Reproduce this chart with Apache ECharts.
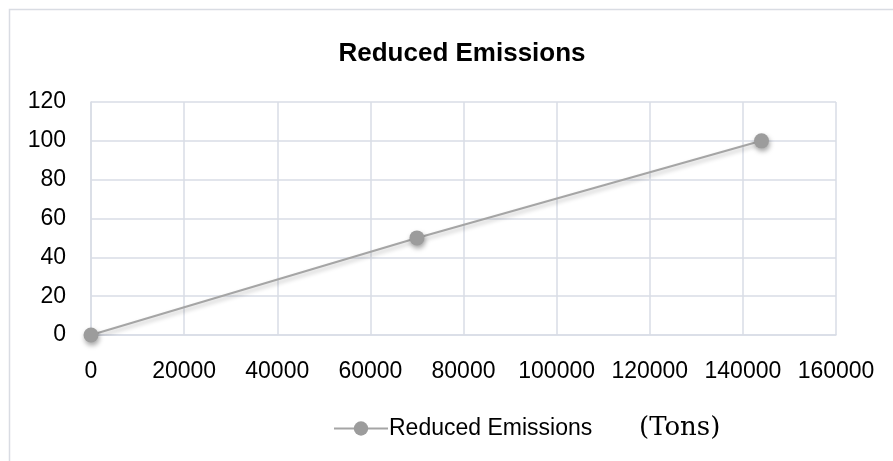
<!DOCTYPE html>
<html>
<head>
<meta charset="utf-8">
<script src="https://cdn.jsdelivr.net/npm/echarts@6/dist/echarts.min.js"></script>
<style>
  html, body { margin: 0; padding: 0; background: #ffffff; }
  #chart { width: 893px; height: 461px; }
</style>
</head>
<body>
<div id="chart"></div>
<script>
// Emission reduction (tons) against percentage reduced
const seriesName = 'Reduced Emissions';
const tonsValues = [0, 70000, 144000];
const percentValues = [0, 50, 100];
const xTicks = { min: 0, max: 160000, interval: 20000 };
const yTicks = { min: 0, max: 120, interval: 20 };
const unitNote = '(Tons)';

const points = tonsValues.map((t, i) => [t, percentValues[i]]);

const gridColor = '#d9dde6';
const labelFont = 'Liberation Sans';

const chart = echarts.init(document.getElementById('chart'), null, { renderer: 'canvas' });
chart.setOption({
  backgroundColor: '#ffffff',
  animation: false,
  title: {
    text: seriesName,
    left: 457,
    textAlign: 'center',
    top: 36,
    textStyle: { fontFamily: labelFont, fontWeight: 'bold', fontSize: 26, color: '#000000' }
  },
  grid: { left: 91, right: 57, top: 102, bottom: 126, containLabel: false },
  legend: {
    data: [seriesName],
    left: 328,
    top: 412,
    itemWidth: 54,
    itemHeight: 18,
    itemGap: 10,
    textStyle: { fontFamily: labelFont, fontSize: 23, color: '#000000', padding: [0, 0, 0, -4] }
  },
  xAxis: {
    type: 'value',
    min: xTicks.min, max: xTicks.max, interval: xTicks.interval,
    axisLine: { show: true, lineStyle: { color: gridColor, width: 1.5 } },
    axisTick: { show: false },
    splitLine: { show: true, lineStyle: { color: gridColor, width: 1.5 } },
    axisLabel: {
      fontFamily: labelFont, fontSize: 23, color: '#000000', margin: 25,
      formatter: (v) => String(v)
    }
  },
  yAxis: {
    type: 'value',
    min: yTicks.min, max: yTicks.max, interval: yTicks.interval,
    axisLine: { show: true, lineStyle: { color: gridColor, width: 1.5 } },
    axisTick: { show: false },
    splitLine: { show: true, lineStyle: { color: gridColor, width: 1.5 } },
    axisLabel: { fontFamily: labelFont, fontSize: 23, color: '#000000', margin: 25 }
  },
  series: [{
    name: seriesName,
    type: 'line',
    data: points,
    symbol: 'circle',
    symbolSize: 15,
    itemStyle: {
      color: '#9c9c9c',
      shadowColor: 'rgba(0,0,0,0.35)',
      shadowBlur: 5,
      shadowOffsetX: 1,
      shadowOffsetY: 3
    },
    lineStyle: {
      color: '#a5a5a5',
      width: 2,
      shadowColor: 'rgba(0,0,0,0.25)',
      shadowBlur: 4,
      shadowOffsetY: 3
    },
    z: 3
  }],
  graphic: [
    {
      type: 'rect',
      shape: { x: 9.5, y: 9.5, width: 900, height: 500 },
      style: { fill: 'none', stroke: '#d9dce3', lineWidth: 1.5 },
      silent: true,
      z: -1
    },
    {
      type: 'text',
      left: 639,
      top: 415,
      style: { text: unitNote, fontFamily: 'DejaVu Serif', fontSize: 26, fill: '#000000' }
    }
  ]
});
</script>
</body>
</html>
